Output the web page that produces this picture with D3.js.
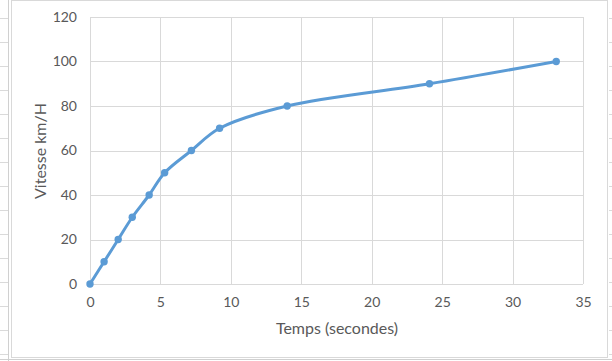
<!DOCTYPE html>
<html>
<head>
<meta charset="utf-8">
<script src="https://cdn.jsdelivr.net/npm/d3@7"></script>
<style>
  body { margin: 0; background: #fff; }
  text { font-family: Lato, "Open Sans", sans-serif; fill: #595959; }
</style>
</head>
<body>
<svg id="chart" width="612" height="361"></svg>
<script>
// data
var temps = [0, 1, 2, 3, 4.2, 5.3, 7.2, 9.2, 14, 24.1, 33.1]; // seconds
var vitesse = [0, 10, 20, 30, 40, 50, 60, 70, 80, 90, 100]; // km/H
var xTicks = [0, 5, 10, 15, 20, 25, 30, 35];
var yTicks = [0, 20, 40, 60, 80, 100, 120];

var svg = d3.select("#chart");

// spreadsheet cells peeking around the chart object
var rows = d3.range(18, 361, 24);
svg.append("g").selectAll("line").data(rows).enter().append("line")
  .attr("x1", 0).attr("x2", 8).attr("y1", function(d){ return d + 0.5; }).attr("y2", function(d){ return d + 0.5; })
  .attr("stroke", "#dadada");
svg.append("g").selectAll("line").data(rows).enter().append("line")
  .attr("x1", 609).attr("x2", 612).attr("y1", function(d){ return d + 0.5; }).attr("y2", function(d){ return d + 0.5; })
  .attr("stroke", "#dadada");
svg.append("line").attr("x1", 8.5).attr("x2", 8.5).attr("y1", 0).attr("y2", 361).attr("stroke", "#d0d0d0");
svg.append("line").attr("x1", 0).attr("x2", 612).attr("y1", 359.5).attr("y2", 359.5).attr("stroke", "#d0d0d0");

// chart frame
svg.append("rect").attr("x", 11.5).attr("y", 0.5).attr("width", 596).attr("height", 357)
  .attr("fill", "#fff").attr("stroke", "#d9d9d9");

var x = d3.scaleLinear().domain([0, 35]).range([90, 583]);
var y = d3.scaleLinear().domain([0, 120]).range([284, 17]);

// gridlines
svg.append("g").selectAll("line").data(yTicks).enter().append("line")
  .attr("x1", x(0)).attr("x2", x(35))
  .attr("y1", function(d){ return Math.round(y(d)) + 0.5; })
  .attr("y2", function(d){ return Math.round(y(d)) + 0.5; })
  .attr("stroke", "#d9d9d9");
svg.append("g").selectAll("line").data(xTicks).enter().append("line")
  .attr("y1", y(0)).attr("y2", y(120))
  .attr("x1", function(d){ return Math.round(x(d)) + 0.5; })
  .attr("x2", function(d){ return Math.round(x(d)) + 0.5; })
  .attr("stroke", "#d9d9d9");

// axes (labels only, Excel style)
var xAxis = svg.append("g").attr("transform", "translate(0," + y(0) + ")")
  .call(d3.axisBottom(x).tickValues(xTicks).tickSize(0).tickPadding(13));
var yAxis = svg.append("g").attr("transform", "translate(" + x(0) + ",0)")
  .call(d3.axisLeft(y).tickValues(yTicks).tickSize(0).tickPadding(13));
[xAxis, yAxis].forEach(function(a){
  a.select(".domain").remove();
  a.selectAll("text").style("font-size", "14px").attr("fill", "#595959")
    .style("font-family", "Lato, 'Open Sans', sans-serif");
});

// axis titles
svg.append("text").attr("x", 337).attr("y", 334).attr("text-anchor", "middle")
  .style("font-size", "16px").text("Temps (secondes)");
svg.append("text").attr("transform", "translate(46,151) rotate(-90)").attr("text-anchor", "middle")
  .style("font-size", "16px").text("Vitesse km/H");

// smoothed line + markers
var pts = temps.map(function(t, i){ return [t, vitesse[i]]; });
var line = d3.line().x(function(d){ return x(d[0]); }).y(function(d){ return y(d[1]); })
  .curve(d3.curveCatmullRom.alpha(0.5));
svg.append("path").datum(pts).attr("d", line)
  .attr("fill", "none").attr("stroke", "#5b9bd5").attr("stroke-width", 3)
  .attr("stroke-linecap", "round");
svg.append("g").selectAll("circle").data(pts).enter().append("circle")
  .attr("cx", function(d){ return x(d[0]); }).attr("cy", function(d){ return y(d[1]); })
  .attr("r", 3.7).attr("fill", "#5b9bd5");
</script>
</body>
</html>
